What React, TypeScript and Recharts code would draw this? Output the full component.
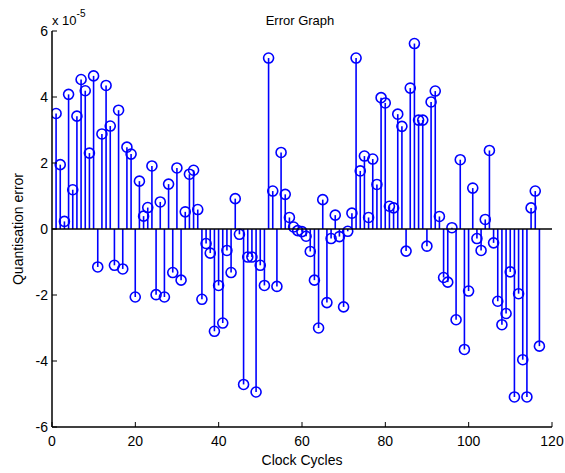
import React from 'react';
import { ComposedChart, Bar, XAxis, YAxis, ReferenceLine } from 'recharts';

// quantisation error per clock cycle, in units of 1e-5 (see the "x 10^-5" label)
const errorValues = [
  3.50, 1.95, 0.23, 4.08, 1.19, 3.42, 4.53, 4.19, 2.30, 4.64,
  -1.15, 2.88, 4.35, 3.12, -1.10, 3.60, -1.21, 2.48, 2.27, -2.06,
  1.45, 0.39, 0.65, 1.91, -1.99, 0.82, -2.06, 1.36, -1.32, 1.85,
  -1.55, 0.52, 1.66, 1.78, 0.59, -2.13, -0.44, -0.73, -3.10, -1.71,
  -2.85, -0.65, -1.32, 0.92, -0.16, -4.71, -0.85, -0.85, -4.94, -1.10,
  -1.71, 5.18, 1.15, -1.74, 2.32, 1.05, 0.35, 0.06, -0.05, -0.08,
  -0.22, -0.68, -1.55, -3.00, 0.89, -2.23, -0.29, 0.42, -0.23, -2.36,
  -0.07, 0.48, 5.18, 1.76, 2.21, 0.35, 2.12, 1.35, 3.98, 3.82,
  0.69, 0.64, 3.48, 3.11, -0.67, 4.27, 5.62, 3.30, 3.30, -0.52,
  3.85, 4.18, 0.38, -1.47, -1.61, 0.04, -2.75, 2.10, -3.65, -1.88,
  1.24, -0.29, -0.65, 0.29, 2.38, -0.42, -2.19, -2.90, -2.56, -1.30,
  -5.09, -1.96, -3.96, -5.09, 0.64, 1.15, -3.55,
];
const xTicks = [0, 20, 40, 60, 80, 100, 120];
const yTicks = [-6, -4, -2, 0, 2, 4, 6];

const data = errorValues.map((v, i) => ({ cycle: i + 1, err: v }));

const BLUE = '#0000ff';
const FONT = '"Liberation Sans", Arial, Helvetica, sans-serif';

// stem: line from the baseline to the value, with an open circle on the end
const Stem = (props: any) => {
  const { x, y, width, height, payload } = props;
  if (x == null || y == null) return null;
  const cx = x + width / 2;
  const a = y;
  const b = y + height;
  const up = payload.err >= 0;
  const tip = up ? Math.min(a, b) : Math.max(a, b);
  const base = up ? Math.max(a, b) : Math.min(a, b);
  return (
    <g>
      <line x1={cx} x2={cx} y1={base} y2={tip} stroke={BLUE} strokeWidth={1.6} />
      <circle cx={cx} cy={tip} r={5} fill="none" stroke={BLUE} strokeWidth={1.6} />
    </g>
  );
};

const BottomTick = ({ x, y, payload }: any) => (
  <g>
    <line x1={x} x2={x} y1={y} y2={y - 5} stroke="#000" />
    <text x={x} y={y + 19} textAnchor="middle" fontSize={14} fontFamily={FONT} fill="#000">
      {payload.value}
    </text>
  </g>
);

const TopTick = ({ x, y }: any) => <line x1={x} x2={x} y1={y} y2={y + 5} stroke="#000" />;

const LeftTick = ({ x, y, payload }: any) => (
  <g>
    <line x1={x} x2={x + 5} y1={y} y2={y} stroke="#000" />
    <text x={x - 4} y={y + 5} textAnchor="end" fontSize={14} fontFamily={FONT} fill="#000">
      {payload.value}
    </text>
  </g>
);

const RightTick = ({ x, y }: any) => <line x1={x} x2={x - 5} y1={y} y2={y} stroke="#000" />;

const txt: React.CSSProperties = {
  position: 'absolute',
  fontFamily: FONT,
  fontSize: 14,
  color: '#000',
  whiteSpace: 'nowrap',
  lineHeight: 1,
};

export default function App() {
  return (
    <div style={{ position: 'absolute', left: 0, top: 0, width: 565, height: 473, background: '#fff' }}>
      <ComposedChart width={565} height={473} data={data} margin={{ top: 31, right: 13, bottom: 0, left: 0 }}>
        <XAxis
          dataKey="cycle"
          type="number"
          domain={[0, 120]}
          ticks={xTicks}
          allowDataOverflow
          height={46}
          tickSize={0}
          tickMargin={0}
          tickLine={false}
          tick={<BottomTick />}
          axisLine={{ stroke: '#000', strokeWidth: 1.5 }}
        />
        <XAxis
          xAxisId="top"
          orientation="top"
          dataKey="cycle"
          type="number"
          domain={[0, 120]}
          ticks={xTicks}
          allowDataOverflow
          height={0}
          tickSize={0}
          tickMargin={0}
          tickLine={false}
          tick={<TopTick />}
          axisLine={{ stroke: '#000', strokeWidth: 1.5 }}
        />
        <YAxis
          type="number"
          domain={[-6, 6]}
          ticks={yTicks}
          allowDataOverflow
          width={52}
          tickSize={0}
          tickMargin={0}
          tickLine={false}
          tick={<LeftTick />}
          axisLine={{ stroke: '#000', strokeWidth: 1.5 }}
        />
        <YAxis
          yAxisId="right"
          orientation="right"
          type="number"
          domain={[-6, 6]}
          ticks={yTicks}
          allowDataOverflow
          width={0}
          tickSize={0}
          tickMargin={0}
          tickLine={false}
          tick={<RightTick />}
          axisLine={{ stroke: '#000', strokeWidth: 1.5 }}
        />
        <Bar dataKey="err" barSize={2} shape={<Stem />} isAnimationActive={false} />
        <ReferenceLine y={0} stroke="#000" strokeWidth={1.5} />
      </ComposedChart>
      <div style={{ ...txt, left: 50, width: 500, top: 14, textAlign: 'center', fontSize: 13 }}>Error Graph</div>
      <div style={{ ...txt, left: 52, top: 12, fontSize: 13 }}>
        x 10<sup style={{ fontSize: 10, position: 'relative', top: -3 }}>-5</sup>
      </div>
      <div style={{ ...txt, left: 52, width: 500, top: 453, textAlign: 'center' }}>Clock Cycles</div>
      <div
        style={{
          ...txt,
          left: 18,
          top: 229,
          transform: 'translate(-50%, -50%) rotate(-90deg)',
        }}
      >
        Quantisation error
      </div>
    </div>
  );
}
